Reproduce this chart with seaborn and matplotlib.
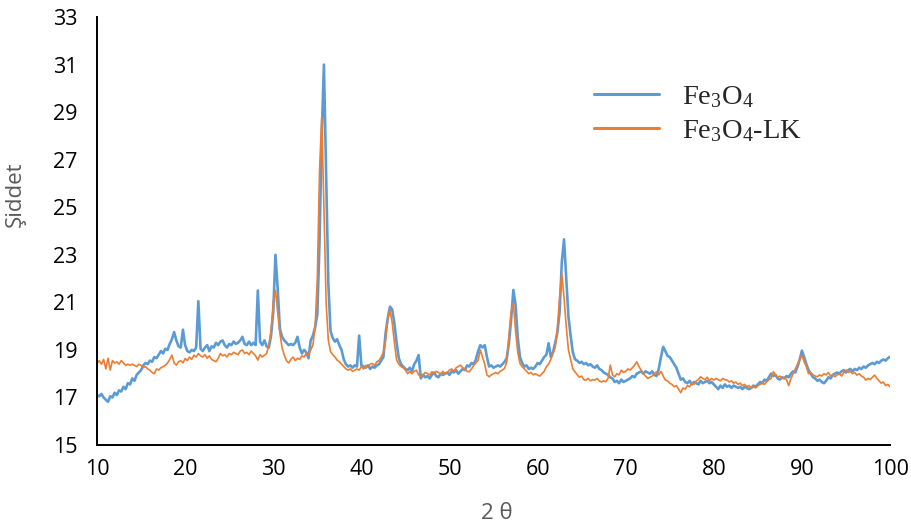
import numpy as np
import pandas as pd
import matplotlib
matplotlib.use("Agg")
import matplotlib.pyplot as plt
import seaborn as sns

# 2θ scan, 0.25° step from 10° to 100°
two_theta = np.arange(10.0, 100.001, 0.25)

fe3o4 = [
    17.10, 17.05, 17.15, 17.00, 16.90, 16.82, 17.05, 17.00,
    17.20, 17.10, 17.30, 17.25, 17.45, 17.35, 17.60, 17.55,
    17.80, 17.70, 17.95, 18.05, 18.15, 18.35, 18.45, 18.40,
    18.55, 18.50, 18.70, 18.65, 18.80, 18.95, 18.85, 19.05,
    19.00, 19.25, 19.45, 19.75, 19.40, 19.15, 19.10, 19.85,
    19.20, 18.95, 18.90, 19.00, 18.95, 19.10, 21.05, 19.05,
    18.95, 19.10, 19.20, 18.95, 19.15, 19.10, 19.30, 19.20,
    19.35, 19.40, 19.20, 19.10, 19.25, 19.20, 19.35, 19.25,
    19.30, 19.40, 19.55, 19.25, 19.20, 19.35, 19.20, 19.30,
    19.20, 21.50, 19.35, 19.20, 19.40, 19.15, 19.10, 19.60,
    20.60, 23.00, 21.60, 19.90, 19.55, 19.40, 19.30, 19.20,
    19.25, 19.20, 19.30, 19.55, 19.10, 18.85, 19.00, 18.90,
    18.65, 19.40, 19.60, 19.95, 20.50, 23.50, 28.00, 31.00,
    26.50, 21.80, 19.80, 19.50, 19.35, 19.45, 19.20, 19.00,
    18.60, 18.40, 18.30, 18.35, 18.25, 18.35, 18.30, 19.60,
    18.35, 18.30, 18.25, 18.35, 18.20, 18.30, 18.25, 18.35,
    18.40, 18.55, 18.70, 19.70, 20.35, 20.82, 20.70, 20.10,
    19.30, 18.65, 18.40, 18.30, 18.20, 18.15, 18.25, 18.10,
    18.40, 18.55, 18.78, 17.80, 17.95, 17.85, 17.90, 17.80,
    17.95, 18.05, 17.90, 17.85, 18.00, 17.95, 18.00, 18.05,
    17.95, 18.10, 18.05, 18.15, 18.00, 18.10, 18.20, 18.15,
    18.35, 18.30, 18.45, 18.40, 18.60, 18.95, 19.20, 19.10,
    19.20, 18.70, 18.30, 18.35, 18.25, 18.30, 18.35, 18.30,
    18.40, 18.50, 18.65, 19.30, 20.30, 21.52, 20.90, 19.50,
    18.70, 18.45, 18.30, 18.35, 18.20, 18.25, 18.20, 18.30,
    18.45, 18.40, 18.55, 18.70, 18.80, 19.28, 18.70, 18.90,
    19.30, 19.75, 20.60, 22.70, 23.65, 22.00, 20.40, 19.60,
    18.90, 18.60, 18.55, 18.45, 18.50, 18.40, 18.45, 18.35,
    18.40, 18.30, 18.25, 18.35, 18.20, 18.15, 18.05, 18.00,
    17.95, 17.85, 17.80, 17.65, 17.70, 17.60, 17.75, 17.65,
    17.70, 17.75, 17.80, 17.90, 17.85, 18.00, 18.05, 18.10,
    18.00, 18.10, 18.05, 18.00, 18.10, 17.95, 17.90, 18.20,
    18.70, 19.13, 18.95, 18.75, 18.70, 18.55, 18.40, 18.25,
    18.00, 17.75, 17.80, 17.65, 17.60, 17.70, 17.55, 17.65,
    17.60, 17.55, 17.70, 17.60, 17.65, 17.70, 17.60, 17.65,
    17.55, 17.45, 17.35, 17.50, 17.40, 17.55, 17.45, 17.50,
    17.40, 17.50, 17.45, 17.40, 17.45, 17.35, 17.45, 17.40,
    17.35, 17.40, 17.50, 17.45, 17.55, 17.65, 17.60, 17.75,
    17.70, 17.85, 18.00, 17.90, 17.95, 17.80, 17.75, 17.85,
    17.80, 17.90, 17.85, 18.00, 18.10, 18.05, 18.30, 18.60,
    18.97, 18.70, 18.40, 18.15, 18.00, 17.85, 17.80, 17.70,
    17.75, 17.65, 17.60, 17.70, 17.85, 17.80, 17.95, 18.00,
    18.05, 18.00, 18.10, 18.15, 18.05, 18.15, 18.20, 18.10,
    18.20, 18.15, 18.25, 18.20, 18.30, 18.25, 18.35, 18.40,
    18.45, 18.40, 18.50, 18.45, 18.55, 18.60, 18.55, 18.65,
    18.71,
]

fe3o4_lk = [
    18.43, 18.55, 18.40, 18.60, 18.20, 18.65, 18.15, 18.55,
    18.45, 18.50, 18.40, 18.55, 18.45, 18.35, 18.40, 18.35,
    18.40, 18.35, 18.30, 18.40, 18.35, 18.25, 18.30, 18.20,
    18.15, 18.05, 18.00, 18.20, 18.15, 18.25, 18.30, 18.35,
    18.45, 18.60, 18.78, 18.45, 18.36, 18.50, 18.55, 18.45,
    18.64, 18.55, 18.70, 18.60, 18.78, 18.70, 18.85, 18.75,
    18.70, 18.80, 18.65, 18.75, 18.60, 18.55, 18.50, 18.65,
    18.85, 18.75, 18.80, 18.70, 18.85, 18.80, 18.90, 18.85,
    18.80, 18.95, 19.00, 18.85, 18.90, 18.80, 18.95, 18.85,
    18.75, 18.57, 18.80, 18.70, 18.78, 18.85, 19.20, 19.80,
    21.00, 21.50, 20.60, 19.70, 19.10, 18.78, 18.55, 18.45,
    18.60, 18.70, 18.55, 18.65, 18.60, 18.75, 18.70, 18.86,
    18.80, 19.00, 19.20, 19.97, 22.00, 26.50, 28.78, 25.00,
    21.00, 19.40, 18.93, 18.80, 18.70, 18.57, 18.50, 18.40,
    18.30, 18.20, 18.15, 18.20, 18.10, 18.15, 18.20, 18.15,
    18.30, 18.20, 18.35, 18.30, 18.40, 18.43, 18.35, 18.50,
    18.55, 18.70, 18.90, 19.40, 20.30, 20.68, 20.15, 19.30,
    18.57, 18.40, 18.30, 18.25, 18.15, 18.00, 18.10, 18.00,
    18.10, 18.15, 17.95, 17.87, 17.95, 18.05, 18.00, 17.95,
    18.08, 18.00, 18.10, 18.05, 17.95, 18.10, 18.00, 18.05,
    18.15, 18.20, 18.10, 18.25, 18.30, 18.36, 18.25, 18.20,
    18.10, 18.08, 18.20, 18.35, 18.45, 18.57, 19.00, 18.70,
    18.40, 17.95, 17.87, 17.95, 18.00, 18.05, 18.00, 18.10,
    18.15, 18.22, 18.50, 19.60, 20.60, 20.96, 19.80, 18.90,
    18.43, 18.30, 18.20, 18.10, 18.00, 18.05, 17.95, 18.00,
    17.94, 17.90, 18.00, 18.10, 18.30, 18.40, 18.60, 18.86,
    19.10, 19.90, 21.24, 22.20, 21.20, 20.00, 19.00, 18.60,
    18.20, 18.08, 17.95, 17.85, 17.90, 17.75, 17.73, 17.80,
    17.70, 17.75, 17.73, 17.80, 17.70, 17.65, 17.70, 17.66,
    17.80, 18.36, 17.95, 17.87, 18.00, 17.95, 18.15, 18.05,
    18.10, 18.20, 18.15, 18.25, 18.35, 18.50, 18.30, 18.15,
    18.00, 17.90, 17.80, 17.85, 17.90, 18.00, 18.08, 17.95,
    18.10, 17.90, 17.73, 17.70, 17.60, 17.55, 17.45, 17.50,
    17.35, 17.20, 17.40, 17.35, 17.50, 17.45, 17.60, 17.55,
    17.70, 17.75, 17.87, 17.80, 17.75, 17.85, 17.70, 17.80,
    17.73, 17.80, 17.75, 17.70, 17.80, 17.75, 17.73, 17.65,
    17.70, 17.60, 17.65, 17.55, 17.60, 17.50, 17.55, 17.45,
    17.50, 17.38, 17.45, 17.40, 17.50, 17.55, 17.60, 17.55,
    17.66, 17.75, 17.80, 18.08, 17.95, 17.85, 17.90, 17.80,
    17.85, 17.75, 17.50, 17.80, 18.00, 18.20, 18.40, 18.60,
    18.78, 18.50, 18.30, 18.00, 18.05, 17.95, 17.90, 17.87,
    17.95, 17.90, 18.00, 17.95, 18.05, 17.90, 17.95, 17.87,
    17.95, 18.00, 17.90, 18.05, 18.15, 18.05, 18.10, 18.00,
    18.05, 17.94, 18.00, 17.90, 17.85, 17.73, 17.80, 17.75,
    17.85, 17.94, 17.80, 17.70, 17.60, 17.65, 17.50, 17.55,
    17.45,
]

series_labels = [r"$\mathrm{Fe_3O_4}$", r"$\mathrm{Fe_3O_4}$-LK"]
series_colors = ["#5B9BD5", "#ED7D31"]
x_ticks = list(range(10, 101, 10))
y_ticks = list(range(15, 34, 2))

sns.set_theme(style="white")
plt.rcParams["font.family"] = ["Open Sans", "DejaVu Sans"]
plt.rcParams["mathtext.fontset"] = "custom"
plt.rcParams["mathtext.rm"] = "Liberation Serif"

fig = plt.figure(figsize=(9.11, 5.32), dpi=100)
ax = fig.add_axes([0.1065, 0.1635, 0.8705, 0.8045])

df_a = pd.DataFrame({"theta": two_theta, "I": fe3o4})
df_b = pd.DataFrame({"theta": two_theta, "I": fe3o4_lk})
sns.lineplot(data=df_a, x="theta", y="I", ax=ax, color=series_colors[0],
             linewidth=1.9, label=series_labels[0], estimator=None)
sns.lineplot(data=df_b, x="theta", y="I", ax=ax, color=series_colors[1],
             linewidth=1.2, label=series_labels[1], estimator=None)

ax.set_xlim(10, 100)
ax.set_ylim(15, 33)
ax.set_xticks(x_ticks)
ax.set_yticks(y_ticks)
ax.tick_params(axis="both", length=0, labelsize=15.5, colors="black")
ax.tick_params(axis="x", pad=10)
ax.tick_params(axis="y", pad=14)

for side in ("top", "right"):
    ax.spines[side].set_visible(False)
for side in ("left", "bottom"):
    ax.spines[side].set_color("black")
    ax.spines[side].set_linewidth(1.4)

ax.set_xlabel("2 θ", fontsize=16, color="#595959")
ax.set_ylabel("Şiddet", fontsize=16, color="#595959")
ax.xaxis.set_label_coords(0.504, -0.135)
ax.yaxis.set_label_coords(-0.09, 0.585)

leg = ax.legend(loc="upper left", bbox_to_anchor=(0.612, 0.87), frameon=False,
                prop={"family": "Liberation Serif", "size": 20.5},
                handlelength=2.3, handletextpad=0.8, labelspacing=0.3,
                borderaxespad=0.0)
for line in leg.get_lines():
    line.set_linewidth(2.2)

fig.savefig("out.png", dpi=100)
